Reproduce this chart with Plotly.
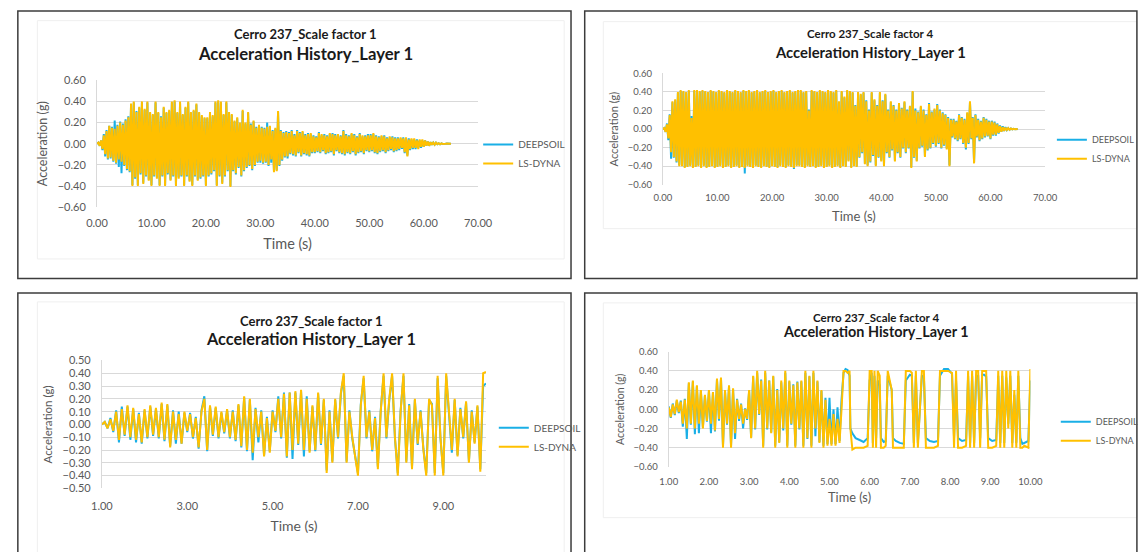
import numpy as np
import plotly.graph_objects as go

W, H = 1148, 552
FONT = "Lato"
BLUE = "#1AAFE6"
GOLD = "#FFC000"
GRID = "#D9D9D9"
LABEL = "#595959"

# ---------------------------------------------------------------------------
# Cerro 237, scale factor 1 - full record, 0-65 s sampled every 0.25 s
# ---------------------------------------------------------------------------
sf1_deepsoil = [
    0.00, 0.01, -0.02, 0.03, -0.06, 0.09, -0.12, 0.13, -0.15, 0.17, -0.14, 0.16, -0.17, 0.22, -0.19, 0.18, -0.22, 0.21, -0.28, 0.19,
    -0.21, 0.23, -0.25, 0.26, -0.27, 0.37, -0.39, 0.39, -0.33, 0.31, -0.39, 0.34, -0.29, 0.39, -0.37, 0.32, -0.31, 0.39, -0.34, 0.29,
    -0.39, 0.27, -0.31, 0.39, -0.32, 0.29, -0.39, 0.26, -0.31, 0.34, -0.39, 0.29, -0.29, 0.31, -0.34, 0.39, -0.31, 0.40, -0.39, 0.29,
    -0.32, 0.39, -0.31, 0.27, -0.39, 0.34, -0.31, 0.39, -0.35, 0.29, -0.39, 0.31, -0.31, 0.37, -0.34, 0.29, -0.33, 0.26, -0.31, 0.24,
    -0.39, 0.24, -0.31, 0.29, -0.29, 0.26, -0.26, 0.39, -0.39, 0.40, -0.31, 0.39, -0.37, 0.27, -0.31, 0.39, -0.26, 0.29, -0.40, 0.27,
    -0.26, 0.21, -0.29, 0.24, -0.23, 0.19, -0.31, 0.31, -0.26, 0.19, -0.23, 0.29, -0.21, 0.19, -0.25, 0.21, -0.21, 0.16, -0.18, 0.17,
    -0.18, 0.16, -0.19, 0.15, -0.18, 0.20, -0.21, 0.16, -0.18, 0.13, -0.26, 0.14, -0.25, 0.30, -0.21, 0.13, -0.16, 0.11, -0.13, 0.12,
    -0.14, 0.11, -0.10, 0.13, -0.11, 0.09, -0.12, 0.13, -0.09, 0.11, -0.12, 0.11, -0.10, 0.09, -0.11, 0.10, -0.12, 0.09, -0.09, 0.08,
    -0.09, 0.07, -0.08, 0.11, -0.09, 0.08, -0.07, 0.09, -0.10, 0.08, -0.09, 0.09, -0.08, 0.10, -0.11, 0.09, -0.07, 0.08, -0.09, 0.08,
    -0.10, 0.13, -0.11, 0.09, -0.09, 0.08, -0.10, 0.09, -0.08, 0.09, -0.11, 0.07, -0.09, 0.10, -0.08, 0.07, -0.10, 0.08, -0.07, 0.09,
    -0.08, 0.09, -0.07, 0.09, -0.09, 0.08, -0.10, 0.07, -0.08, 0.07, -0.07, 0.08, -0.09, 0.06, -0.07, 0.06, -0.06, 0.07, -0.08, 0.06,
    -0.07, 0.06, -0.06, 0.05, -0.05, 0.06, -0.09, 0.05, -0.11, 0.05, -0.06, 0.04, -0.05, 0.04, -0.05, 0.04, -0.04, 0.03, -0.04, 0.03,
    -0.03, 0.03, -0.02, 0.02, -0.02, 0.015, -0.01, 0.01, -0.01, 0.01, -0.005, 0.005, -0.005, 0.003, -0.002, 0.002, -0.001, 0.001, 0.00, 0.00,
    0.00,
]
sf1_lsdyna = [
    0.00, 0.01, -0.02, 0.03, -0.05, 0.08, -0.10, 0.12, -0.14, 0.17, -0.13, 0.15, -0.16, 0.14, -0.18, 0.17, -0.15, 0.20, -0.17, 0.18,
    -0.20, 0.22, -0.24, 0.25, -0.26, 0.38, -0.40, 0.40, -0.32, 0.30, -0.40, 0.35, -0.28, 0.40, -0.38, 0.33, -0.30, 0.40, -0.35, 0.30,
    -0.40, 0.28, -0.30, 0.40, -0.33, 0.30, -0.40, 0.25, -0.30, 0.35, -0.40, 0.30, -0.28, 0.32, -0.35, 0.40, -0.30, 0.41, -0.40, 0.30,
    -0.33, 0.40, -0.30, 0.28, -0.40, 0.35, -0.30, 0.40, -0.36, 0.30, -0.40, 0.32, -0.30, 0.38, -0.35, 0.30, -0.32, 0.27, -0.30, 0.25,
    -0.40, 0.25, -0.30, 0.30, -0.28, 0.27, -0.25, 0.40, -0.40, 0.41, -0.30, 0.40, -0.38, 0.28, -0.30, 0.40, -0.25, 0.30, -0.41, 0.28,
    -0.25, 0.22, -0.28, 0.25, -0.22, 0.20, -0.30, 0.32, -0.25, 0.20, -0.22, 0.30, -0.20, 0.18, -0.24, 0.22, -0.20, 0.15, -0.17, 0.18,
    -0.16, 0.15, -0.18, 0.14, -0.17, 0.16, -0.20, 0.17, -0.15, 0.12, -0.27, 0.15, -0.26, 0.31, -0.20, 0.12, -0.15, 0.10, -0.12, 0.11,
    -0.12, 0.10, -0.09, 0.12, -0.10, 0.08, -0.11, 0.12, -0.08, 0.10, -0.11, 0.12, -0.09, 0.08, -0.10, 0.09, -0.11, 0.10, -0.08, 0.07,
    -0.08, 0.06, -0.07, 0.10, -0.08, 0.09, -0.06, 0.08, -0.09, 0.07, -0.08, 0.10, -0.07, 0.09, -0.10, 0.08, -0.06, 0.09, -0.08, 0.07,
    -0.09, 0.12, -0.10, 0.08, -0.08, 0.07, -0.09, 0.10, -0.07, 0.08, -0.10, 0.06, -0.08, 0.09, -0.07, 0.08, -0.09, 0.07, -0.06, 0.08,
    -0.07, 0.08, -0.06, 0.10, -0.08, 0.07, -0.09, 0.06, -0.07, 0.08, -0.06, 0.07, -0.08, 0.05, -0.06, 0.07, -0.05, 0.06, -0.07, 0.05,
    -0.06, 0.05, -0.05, 0.06, -0.04, 0.05, -0.08, 0.06, -0.12, 0.04, -0.05, 0.05, -0.04, 0.05, -0.04, 0.03, -0.05, 0.04, -0.03, 0.04,
    -0.03, 0.03, -0.02, 0.02, -0.02, 0.015, -0.01, 0.01, -0.01, 0.01, -0.005, 0.005, -0.005, 0.003, -0.002, 0.002, -0.001, 0.001, 0.00, 0.00,
    0.00,
]

# ---------------------------------------------------------------------------
# Cerro 237, scale factor 4 - full record, 0-65 s sampled every 0.25 s
# ---------------------------------------------------------------------------
sf4_deepsoil = [
    0.00, 0.01, -0.03, 0.06, -0.12, 0.16, -0.32, 0.29, -0.31, 0.31, -0.36, 0.39, -0.39, 0.41, -0.39, 0.40, -0.41, 0.39, -0.40, 0.41,
    -0.39, 0.14, -0.41, 0.41, -0.40, 0.41, -0.39, 0.40, -0.41, 0.41, -0.39, 0.40, -0.41, 0.39, -0.40, 0.41, -0.39, 0.40, -0.41, 0.39,
    -0.40, 0.41, -0.39, 0.40, -0.41, 0.39, -0.40, 0.41, -0.39, 0.40, -0.41, 0.39, -0.40, 0.41, -0.39, 0.40, -0.41, 0.39, -0.40, 0.41,
    -0.48, 0.40, -0.39, 0.41, -0.40, 0.39, -0.41, 0.40, -0.39, 0.41, -0.40, 0.39, -0.41, 0.40, -0.39, 0.41, -0.40, 0.39, -0.41, 0.40,
    -0.39, 0.41, -0.40, 0.39, -0.41, 0.40, -0.39, 0.41, -0.40, 0.39, -0.41, 0.40, -0.39, 0.41, -0.40, 0.39, -0.43, 0.40, -0.39, 0.41,
    -0.39, 0.41, -0.40, 0.39, -0.41, 0.40, -0.39, 0.21, -0.40, 0.41, -0.39, 0.40, -0.41, 0.39, -0.40, 0.41, -0.39, 0.40, -0.41, 0.39,
    -0.40, 0.41, -0.39, 0.40, -0.41, 0.39, -0.40, 0.41, -0.39, 0.29, -0.41, 0.40, -0.39, 0.34, -0.40, 0.41, -0.34, 0.40, -0.41, 0.39,
    -0.39, 0.26, -0.40, 0.39, -0.31, 0.37, -0.26, 0.39, -0.37, 0.31, -0.39, 0.21, -0.36, 0.39, -0.29, 0.31, -0.39, 0.26, -0.31, 0.39,
    -0.34, 0.31, -0.39, 0.37, -0.26, 0.21, -0.31, 0.29, -0.23, 0.26, -0.34, 0.21, -0.26, 0.27, -0.31, 0.23, -0.21, 0.29, -0.26, 0.21,
    -0.21, 0.24, -0.41, 0.40, -0.31, 0.22, -0.34, 0.19, -0.21, 0.24, -0.19, 0.21, -0.29, 0.16, -0.23, 0.28, -0.21, 0.19, -0.16, 0.21,
    -0.19, 0.27, -0.16, 0.21, -0.21, 0.18, -0.18, 0.16, -0.21, 0.13, -0.39, 0.11, -0.09, 0.11, -0.11, 0.09, -0.13, 0.16, -0.11, 0.13,
    -0.16, 0.11, -0.22, 0.17, -0.16, 0.29, -0.11, 0.13, -0.36, 0.16, -0.09, 0.11, -0.13, 0.09, -0.11, 0.13, -0.09, 0.11, -0.08, 0.09,
    -0.11, 0.09, -0.07, 0.08, -0.07, 0.06, -0.05, 0.04, -0.03, 0.03, -0.02, 0.02, -0.01, 0.01, -0.008, 0.006, -0.004, 0.003, -0.002, 0.00,
    0.00,
]
sf4_lsdyna = [
    0.00, 0.01, -0.03, 0.05, -0.10, 0.15, -0.25, 0.30, -0.30, 0.32, -0.35, 0.40, -0.40, 0.42, -0.40, 0.41, -0.42, 0.40, -0.41, 0.42,
    -0.40, 0.12, -0.42, 0.42, -0.41, 0.42, -0.40, 0.41, -0.42, 0.42, -0.40, 0.41, -0.42, 0.40, -0.41, 0.42, -0.40, 0.41, -0.42, 0.40,
    -0.41, 0.42, -0.40, 0.41, -0.42, 0.40, -0.41, 0.42, -0.40, 0.41, -0.42, 0.40, -0.41, 0.42, -0.40, 0.41, -0.42, 0.40, -0.41, 0.42,
    -0.42, 0.41, -0.40, 0.42, -0.41, 0.40, -0.42, 0.41, -0.40, 0.42, -0.41, 0.40, -0.42, 0.41, -0.40, 0.42, -0.41, 0.40, -0.42, 0.41,
    -0.40, 0.42, -0.41, 0.40, -0.42, 0.41, -0.40, 0.42, -0.41, 0.40, -0.42, 0.41, -0.40, 0.42, -0.41, 0.40, -0.42, 0.41, -0.40, 0.42,
    -0.40, 0.42, -0.41, 0.40, -0.42, 0.41, -0.40, 0.20, -0.41, 0.42, -0.40, 0.41, -0.42, 0.40, -0.41, 0.42, -0.40, 0.41, -0.42, 0.40,
    -0.41, 0.42, -0.40, 0.41, -0.42, 0.40, -0.41, 0.42, -0.40, 0.30, -0.42, 0.41, -0.40, 0.35, -0.41, 0.42, -0.35, 0.41, -0.42, 0.40,
    -0.40, 0.25, -0.41, 0.40, -0.30, 0.38, -0.25, 0.40, -0.38, 0.30, -0.40, 0.20, -0.35, 0.40, -0.28, 0.32, -0.40, 0.25, -0.30, 0.40,
    -0.35, 0.30, -0.40, 0.38, -0.25, 0.20, -0.30, 0.30, -0.22, 0.25, -0.35, 0.20, -0.25, 0.28, -0.30, 0.22, -0.20, 0.30, -0.25, 0.20,
    -0.20, 0.25, -0.42, 0.41, -0.30, 0.20, -0.35, 0.18, -0.20, 0.25, -0.18, 0.20, -0.30, 0.15, -0.22, 0.27, -0.20, 0.18, -0.15, 0.22,
    -0.18, 0.26, -0.15, 0.20, -0.20, 0.17, -0.17, 0.15, -0.22, 0.12, -0.40, 0.10, -0.08, 0.10, -0.10, 0.08, -0.12, 0.15, -0.10, 0.12,
    -0.15, 0.10, -0.20, 0.18, -0.15, 0.30, -0.10, 0.12, -0.37, 0.15, -0.08, 0.10, -0.12, 0.08, -0.10, 0.12, -0.08, 0.10, -0.07, 0.08,
    -0.10, 0.08, -0.06, 0.07, -0.06, 0.05, -0.04, 0.03, -0.03, 0.02, -0.02, 0.015, -0.01, 0.01, -0.008, 0.006, -0.004, 0.003, -0.002, 0.00,
    0.00,
]

# ---------------------------------------------------------------------------
# Scale factor 1, detail of the 1-10 s window (15 samples per second)
# ---------------------------------------------------------------------------
sf1_detail_deepsoil = [
    0.00, 0.02, -0.03, 0.05, -0.06, 0.11, -0.14, 0.14, -0.09, 0.14, -0.12, 0.12, -0.14, 0.09, -0.15,
    0.11, -0.11, 0.14, -0.09, 0.12, -0.11, 0.16, -0.13, 0.15, -0.17, 0.11, -0.15, 0.10, -0.15, 0.09,
    -0.06, 0.09, -0.11, 0.06, -0.19, 0.11, 0.22, -0.21, 0.14, -0.09, 0.13, -0.11, 0.09, -0.07, 0.11,
    -0.11, 0.11, -0.13, 0.15, -0.18, 0.21, -0.21, 0.19, -0.28, 0.13, -0.14, 0.11, -0.24, 0.06, -0.21,
    0.11, -0.06, 0.22, -0.11, 0.25, -0.26, 0.25, -0.27, 0.25, -0.16, 0.26, -0.25, 0.22, -0.21, 0.14,
    -0.21, 0.24, -0.16, 0.19, -0.36, 0.11, -0.29, 0.19, -0.11, 0.24, 0.38, -0.29, 0.11, -0.11, -0.24,
    -0.38, 0.16, 0.36, -0.11, 0.11, -0.21, 0.06, -0.33, 0.11, 0.38, -0.11, 0.19, 0.38, -0.11, -0.38,
    0.11, 0.38, -0.29, 0.16, -0.33, 0.19, -0.16, 0.11, -0.19, -0.38, 0.19, 0.16, -0.38, 0.36, -0.11,
    -0.38, 0.38, 0.11, -0.22, 0.19, -0.24, 0.13, -0.11, 0.17, -0.29, 0.11, -0.14, 0.14, -0.35, 0.30,
    0.32,
]
sf1_detail_lsdyna = [
    0.00, 0.02, -0.03, 0.04, -0.05, 0.10, -0.12, 0.12, -0.08, 0.15, -0.10, 0.13, -0.12, 0.08, -0.14,
    0.12, -0.10, 0.15, -0.08, 0.13, -0.10, 0.17, -0.12, 0.16, -0.18, 0.10, -0.12, 0.08, -0.15, 0.10,
    -0.05, 0.08, -0.10, 0.05, -0.18, 0.10, 0.20, -0.20, 0.15, -0.08, 0.14, -0.10, 0.10, -0.06, 0.12,
    -0.10, 0.10, -0.12, 0.16, -0.17, 0.22, -0.20, 0.20, -0.22, 0.12, -0.10, 0.10, -0.25, 0.05, -0.22,
    0.10, -0.05, 0.20, -0.10, 0.24, -0.25, 0.25, -0.20, 0.26, -0.15, 0.27, -0.20, 0.20, -0.22, 0.15,
    -0.20, 0.25, -0.15, 0.20, -0.38, 0.10, -0.30, 0.20, -0.10, 0.25, 0.40, -0.30, 0.10, -0.10, -0.25,
    -0.40, 0.15, 0.38, -0.10, 0.10, -0.20, 0.05, -0.35, 0.10, 0.40, -0.10, 0.20, 0.40, -0.10, -0.40,
    0.10, 0.40, -0.30, 0.15, -0.35, 0.20, -0.15, 0.10, -0.20, -0.40, 0.20, 0.15, -0.40, 0.38, -0.10,
    -0.40, 0.40, 0.10, -0.20, 0.20, -0.25, 0.12, -0.10, 0.18, -0.30, 0.10, -0.15, 0.15, -0.37, 0.40,
    0.41,
]

# ---------------------------------------------------------------------------
# Scale factor 4, detail of the 1-10 s window (irregular sample times)
# ---------------------------------------------------------------------------
sf4_detail_time = [
    1.00, 1.05, 1.10, 1.15, 1.20, 1.25, 1.30, 1.35, 1.40, 1.45, 1.50, 1.55, 1.60, 1.65, 1.70, 1.75, 1.80, 1.85, 1.90, 1.95,
    2.00, 2.05, 2.10, 2.15, 2.20, 2.25, 2.30, 2.35, 2.40, 2.45, 2.50, 2.55, 2.60, 2.65, 2.70, 2.75, 2.80, 2.85, 2.90, 2.95,
    3.00, 3.05, 3.10, 3.15, 3.20, 3.25, 3.30, 3.35, 3.40, 3.45, 3.50, 3.55, 3.60, 3.65, 3.70, 3.75, 3.80, 3.85, 3.90, 3.95,
    4.00, 4.05, 4.10, 4.15, 4.20, 4.25, 4.30, 4.35, 4.40, 4.45, 4.50, 4.55, 4.60, 4.65, 4.70, 4.75, 4.80, 4.85, 4.90, 4.95,
    5.00, 5.05, 5.10, 5.15, 5.20, 5.25,
    5.30, 5.35, 5.40, 5.45, 5.50, 5.52, 5.57, 5.65, 5.75, 5.85, 5.95, 6.00, 6.05, 6.08, 6.12,
    6.16, 6.20, 6.25, 6.28, 6.35, 6.40, 6.45, 6.50, 6.55, 6.58, 6.65, 6.75, 6.85, 6.90, 7.00,
    7.05, 7.10, 7.15, 7.20, 7.30, 7.35, 7.40, 7.50, 7.60, 7.70, 7.75, 7.85, 7.95, 8.05, 8.10,
    8.15, 8.20, 8.30, 8.40, 8.45, 8.50, 8.55, 8.60, 8.65, 8.70, 8.75, 8.80, 8.85, 8.90, 8.95,
    9.05, 9.15, 9.20, 9.25, 9.30, 9.35, 9.40, 9.45, 9.50, 9.55, 9.60, 9.65, 9.70, 9.75, 9.80,
    9.85, 9.95, 10.00,
]
sf4_detail_deepsoil = [
    0.03, -0.09, 0.06, -0.06, 0.09, -0.04, 0.09, -0.18, 0.11, -0.31, 0.27, -0.16, 0.29, -0.26, 0.24, -0.25, 0.19, -0.19, 0.14, -0.13,
    0.19, -0.25, 0.17, -0.23, 0.31, -0.12, 0.32, -0.38, 0.19, -0.16, 0.24, -0.38, 0.21, -0.31, 0.11, -0.12, 0.06, -0.20, 0.01, -0.11,
    0.19, -0.29, 0.34, -0.21, 0.38, -0.06, 0.31, -0.38, 0.38, -0.21, 0.30, -0.24, 0.34, -0.38, 0.21, -0.34, 0.28, -0.22, 0.38, -0.38,
    0.29, -0.16, 0.26, -0.38, 0.29, -0.21, 0.29, -0.38, 0.38, -0.31, 0.34, -0.38, 0.38, -0.28, 0.29, -0.34, 0.19, -0.38, 0.12, -0.36,
    0.12, -0.36, 0.00, -0.36, 0.02, -0.33,
    0.10, 0.38, 0.42, 0.41, 0.35, -0.20, -0.25, -0.30, -0.32, -0.34, -0.30, 0.30, 0.38, -0.35, 0.35,
    -0.30, 0.30, 0.25, -0.30, -0.34, -0.33, 0.35, 0.28, 0.20, -0.30, -0.33, -0.35, -0.36, 0.30, 0.36,
    0.35, -0.35, 0.35, -0.35, 0.35, 0.34, -0.30, -0.33, -0.34, -0.33, 0.35, 0.42, 0.42, 0.37, -0.30,
    0.30, -0.30, -0.33, -0.32, 0.35, -0.35, 0.35, -0.35, 0.35, 0.35, -0.30, 0.36, 0.36, 0.34, -0.30,
    -0.33, -0.32, 0.35, -0.35, 0.35, -0.35, 0.33, -0.15, 0.35, -0.35, 0.15, -0.35, 0.35, -0.30, -0.36,
    -0.35, -0.33, 0.30,
]
sf4_detail_lsdyna = [
    0.02, -0.08, 0.05, -0.05, 0.10, -0.03, 0.08, -0.15, 0.10, -0.20, 0.28, -0.15, 0.30, -0.20, 0.25, -0.15, 0.20, -0.20, 0.15, -0.12,
    0.20, -0.15, 0.18, -0.22, 0.32, -0.10, 0.33, -0.40, 0.20, -0.15, 0.25, -0.40, 0.22, -0.25, 0.10, -0.10, 0.05, -0.15, 0.00, -0.10,
    0.20, -0.30, 0.35, -0.20, 0.40, -0.05, 0.30, -0.40, 0.40, -0.20, 0.30, -0.25, 0.35, -0.40, 0.20, -0.35, 0.30, -0.20, 0.40, -0.40,
    0.30, -0.15, 0.25, -0.40, 0.28, -0.20, 0.30, -0.40, 0.40, -0.30, 0.35, -0.40, 0.40, -0.20, 0.30, -0.35, 0.20, -0.40, 0.10, -0.38,
    -0.10, -0.38, -0.05, -0.38, -0.10, -0.35,
    0.00, 0.40, 0.40, 0.38, 0.40, -0.20, -0.42, -0.40, -0.40, -0.40, -0.38, 0.40, 0.40, -0.40, 0.40,
    -0.40, 0.40, 0.35, -0.40, -0.40, -0.38, 0.40, 0.30, 0.20, -0.40, -0.40, -0.40, -0.40, 0.40, 0.40,
    0.38, -0.40, 0.40, -0.40, 0.40, 0.40, -0.40, -0.40, -0.40, -0.38, 0.40, 0.40, 0.40, 0.38, -0.40,
    0.40, -0.40, -0.40, -0.38, 0.40, -0.40, 0.40, -0.40, 0.40, 0.40, -0.40, 0.40, 0.40, 0.40, -0.40,
    -0.40, -0.38, 0.40, -0.40, 0.40, -0.40, 0.40, -0.20, 0.40, -0.40, 0.20, -0.40, 0.40, -0.40, -0.40,
    -0.38, -0.40, 0.42,
]

assert len(sf4_detail_time) == len(sf4_detail_deepsoil) == len(sf4_detail_lsdyna)

series_names = ["DEEPSOIL", "LS-DYNA"]
series_colors = [BLUE, GOLD]

# sample times
sf1_time = np.linspace(0.0, 65.0, len(sf1_lsdyna))
sf4_time = np.linspace(0.0, 65.0, len(sf4_lsdyna))
sf1_detail_time = np.linspace(1.0, 10.0, len(sf1_detail_lsdyna))


def fx(px):
    return px / W


def fy(py):
    return 1 - py / H


# panel layout, in pixels
panels = [
    dict(ax="", leg="legend", box=(7, 573, 4, 278), area=(27, 566, 14, 258),
         xpx=(88, 478), ypx=(75, 205), xr=[0, 70], x0=0, dx=10,
         yr=[-0.6, 0.6], dy=0.2, tick=11, xt=14.5, yt=12.5, xts=8, xtt=10, ytt=7,
         title=("Cerro 237_Scale factor 1", "Acceleration History_Layer 1"),
         tcx=301, t1y=28, t2y=48, t1s=13, t2s=16.7, legx=478, legy=126, legs=10,
         t=[sf1_time, sf1_time], v=[sf1_deepsoil, sf1_lsdyna]),
    dict(ax="2", leg="legend2", box=(587, 1152, 4, 278), area=(606, 1152, 15, 227),
         xpx=(667, 1058), ypx=(68, 182), xr=[0, 70], x0=0, dx=10,
         yr=[-0.6, 0.6], dy=0.2, tick=9.5, xt=13, yt=11, xts=6, xtt=9, ytt=6.5,
         title=("Cerro 237_Scale factor 4", "Acceleration History_Layer 1"),
         tcx=879, t1y=27, t2y=46, t1s=11.5, t2s=14.8, legx=1065, legy=121, legs=9,
         t=[sf4_time, sf4_time], v=[sf4_deepsoil, sf4_lsdyna]),
    dict(ax="3", leg="legend3", box=(7, 573, 293, 560), area=(27, 566, 302, 560),
         xpx=(93, 486), ypx=(362, 493), xr=[1, 10], x0=1, dx=2,
         yr=[-0.5, 0.5], dy=0.1, tick=11, xt=14, yt=11.5, xts=10, xtt=9.5, ytt=7,
         title=("Cerro 237_Scale factor 1", "Acceleration History_Layer 1"),
         tcx=307, t1y=322, t2y=340, t1s=13, t2s=16.3, legx=494, legy=416, legs=10,
         t=[sf1_detail_time, sf1_detail_time], v=[sf1_detail_deepsoil, sf1_detail_lsdyna]),
    dict(ax="4", leg="legend4", box=(587, 1152, 293, 560), area=(606, 1152, 303, 523),
         xpx=(673, 1043), ypx=(353, 471), xr=[1, 10], x0=1, dx=1,
         yr=[-0.6, 0.6], dy=0.2, tick=9.5, xt=12.8, yt=10.5, xts=8, xtt=6.5, ytt=6.5,
         title=("Cerro 237_Scale factor 4", "Acceleration History_Layer 1"),
         tcx=885, t1y=318, t2y=332, t1s=11.5, t2s=14.4, legx=1069, legy=410, legs=9,
         t=[sf4_detail_time, sf4_detail_time], v=[sf4_detail_deepsoil, sf4_detail_lsdyna]),
]

fig = go.Figure()
layout = dict(
    width=W, height=H, margin=dict(l=0, r=0, t=0, b=0),
    paper_bgcolor="white", plot_bgcolor="white",
    font=dict(family=FONT, color=LABEL),
    annotations=[], shapes=[],
)

for p in panels:
    xa = "x" + p["ax"]
    ya = "y" + p["ax"]
    for name, color, tt, vv in zip(series_names, series_colors, p["t"], p["v"]):
        fig.add_trace(go.Scatter(
            x=tt, y=vv, mode="lines", name=name, xaxis=xa, yaxis=ya,
            legend=p["leg"], line=dict(color=color, width=2),
            hoverinfo="skip",
        ))

    layout["xaxis" + p["ax"]] = dict(
        domain=[fx(p["xpx"][0]), fx(p["xpx"][1])], anchor=ya,
        range=p["xr"], tickmode="linear", tick0=p["x0"], dtick=p["dx"],
        tickformat=".2f", showgrid=False, zeroline=False, showline=False,
        ticks="", ticklabelstandoff=p["xts"],
        tickfont=dict(family=FONT, size=p["tick"], color=LABEL),
        title=dict(text="Time (s)", standoff=p["xtt"],
                   font=dict(family=FONT, size=p["xt"], color=LABEL)),
    )
    layout["yaxis" + p["ax"]] = dict(
        domain=[fy(p["ypx"][1]), fy(p["ypx"][0])], anchor=xa,
        range=p["yr"], tickmode="linear", tick0=0, dtick=p["dy"],
        tickformat=".2f", showgrid=True, gridcolor=GRID, gridwidth=1,
        zeroline=False, showline=True, linecolor=GRID, linewidth=1,
        ticks="", ticklabelstandoff=8,
        tickfont=dict(family=FONT, size=p["tick"], color=LABEL),
        title=dict(text="Acceleration (g)", standoff=p["ytt"],
                   font=dict(family=FONT, size=p["yt"], color=LABEL)),
    )
    layout[p["leg"]] = dict(
        x=fx(p["legx"]), y=fy(p["legy"]), xanchor="left", yanchor="top",
        bgcolor="rgba(0,0,0,0)", borderwidth=0, tracegroupgap=0,
        font=dict(family=FONT, size=p["legs"], color=LABEL),
    )

    # chart titles
    layout["annotations"] += [
        dict(text="<b>%s</b>" % p["title"][0], x=fx(p["tcx"]), y=fy(p["t1y"]),
             xref="paper", yref="paper", xanchor="center", yanchor="middle",
             showarrow=False, font=dict(family=FONT, size=p["t1s"], color="#1a1a1a")),
        dict(text="<b>%s</b>" % p["title"][1], x=fx(p["tcx"]), y=fy(p["t2y"]),
             xref="paper", yref="paper", xanchor="center", yanchor="middle",
             showarrow=False, font=dict(family=FONT, size=p["t2s"], color="#1a1a1a")),
    ]

    # faint chart area and dark frame around each chart
    a = p["area"]
    b = p["box"]
    layout["shapes"] += [
        dict(type="rect", xref="paper", yref="paper", layer="below",
             x0=fx(a[0]), x1=fx(a[1]), y0=fy(a[3]), y1=fy(a[2]),
             line=dict(color="#EFEFEF", width=1), fillcolor="rgba(0,0,0,0)"),
        dict(type="rect", xref="paper", yref="paper", layer="above",
             x0=fx(b[0]), x1=fx(b[1]), y0=fy(b[3]), y1=fy(b[2]),
             line=dict(color="#3C3C3C", width=1.5), fillcolor="rgba(0,0,0,0)"),
    ]

fig.update_layout(**layout)
fig.write_html("out.html")
